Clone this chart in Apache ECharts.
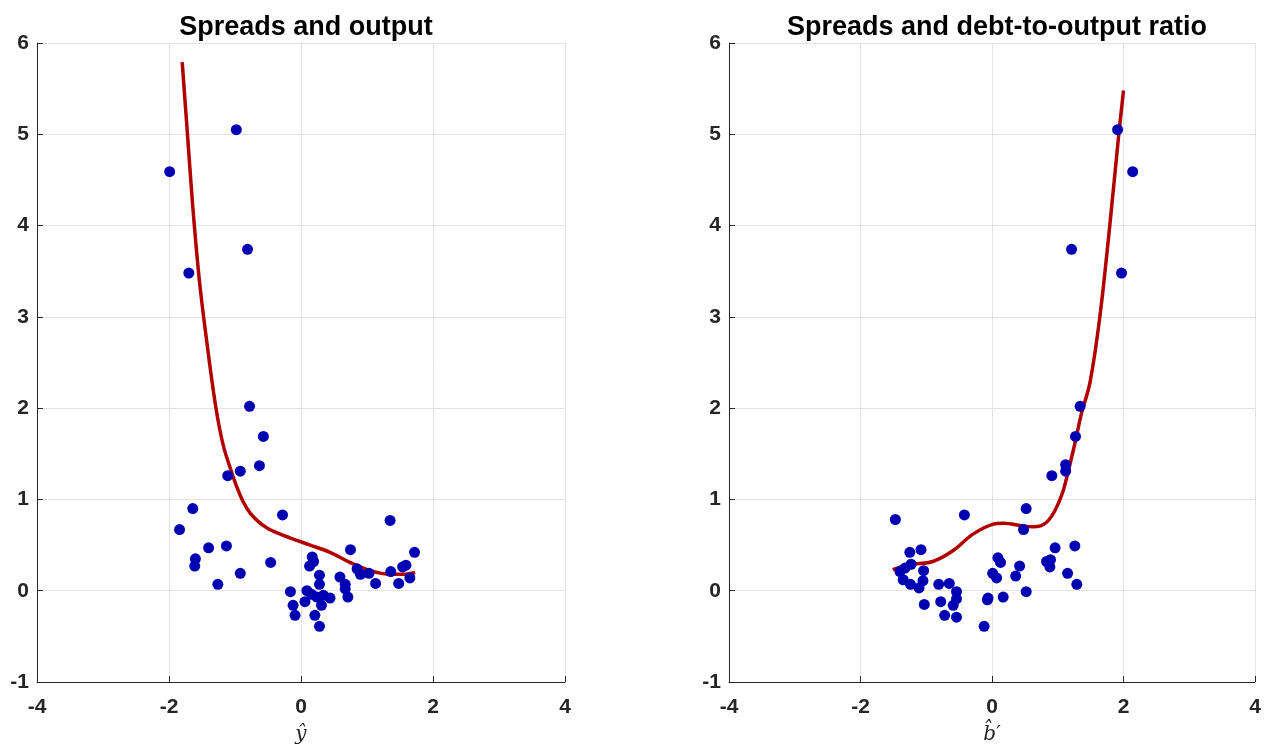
<!DOCTYPE html>
<html>
<head>
<meta charset="utf-8">
<script src="https://cdn.jsdelivr.net/npm/echarts@6/dist/echarts.min.js"></script>
<style>
html,body{margin:0;padding:0;background:#fff;}
#chart{width:1268px;height:745px;}
</style>
</head>
<body>
<div id="chart"></div>
<script>
// ---- Data ----
const titles = ['Spreads and output', 'Spreads and debt-to-output ratio'];
const xNames = ['\u0177', 'b\u0302\u2032'];
const xTicks = [-4, -2, 0, 2, 4];
const yTicks = [-1, 0, 1, 2, 3, 4, 5, 6];

// Left panel: output gap (x) vs spread (y)
const outputPoints = [
  [-1.99, 4.59], [-0.98, 5.05], [-0.81, 3.74], [-1.70, 3.48], [-0.78, 2.02],
  [-0.57, 1.69], [-0.63, 1.37], [-0.92, 1.31], [-1.11, 1.26], [-1.64, 0.90],
  [-0.28, 0.83], [1.35, 0.77], [-1.84, 0.67], [-1.40, 0.47], [-1.13, 0.49],
  [1.72, 0.42], [0.75, 0.45], [-1.60, 0.35], [-1.61, 0.27], [-0.46, 0.31],
  [-0.92, 0.19], [-1.26, 0.07], [0.17, 0.37], [0.19, 0.32], [0.13, 0.27],
  [0.28, 0.17], [0.28, 0.07], [0.59, 0.15], [0.67, 0.07], [0.67, 0.02],
  [0.71, -0.07], [0.85, 0.24], [0.90, 0.18], [1.03, 0.19], [1.13, 0.08],
  [1.36, 0.21], [1.48, 0.08], [1.54, 0.26], [1.59, 0.28], [1.65, 0.14],
  [-0.16, -0.01], [-0.12, -0.16], [-0.09, -0.27], [0.09, 0.00], [0.06, -0.12],
  [0.16, -0.04], [0.24, -0.07], [0.34, -0.05], [0.44, -0.08], [0.31, -0.16],
  [0.21, -0.27], [0.28, -0.39]
];
const outputCurve = [
  [-1.80, 5.79], [-1.72, 5.00], [-1.64, 4.21], [-1.54, 3.40], [-1.43, 2.74],
  [-1.33, 2.20], [-1.25, 1.84], [-1.17, 1.57], [-1.08, 1.36], [-0.98, 1.15],
  [-0.88, 0.98], [-0.77, 0.85], [-0.65, 0.76], [-0.52, 0.69], [-0.35, 0.63],
  [-0.17, 0.58], [0.14, 0.50], [0.44, 0.42], [0.74, 0.31], [1.05, 0.22],
  [1.35, 0.18], [1.55, 0.18], [1.73, 0.20]
];

// Right panel: debt-to-output (x) vs spread (y)
const debtPoints = [
  [1.91, 5.05], [2.14, 4.59], [1.21, 3.74], [1.97, 3.48], [1.34, 2.02],
  [1.27, 1.69], [1.12, 1.38], [1.12, 1.31], [0.91, 1.26], [0.52, 0.90],
  [-0.42, 0.83], [-1.47, 0.78], [0.48, 0.67], [0.96, 0.47], [1.26, 0.49],
  [-1.25, 0.42], [-1.08, 0.45], [0.09, 0.36], [0.13, 0.31], [0.42, 0.27],
  [0.36, 0.16], [0.83, 0.32], [0.89, 0.34], [0.88, 0.26], [0.01, 0.19],
  [0.07, 0.14], [1.15, 0.19], [1.29, 0.07], [-1.23, 0.29], [-1.40, 0.21],
  [-1.35, 0.12], [-1.24, 0.07], [-1.11, 0.03], [-1.05, 0.11], [-1.04, 0.22],
  [-1.03, -0.15], [-0.81, 0.07], [-0.65, 0.08], [-0.54, -0.01], [-0.54, -0.09],
  [-0.78, -0.12], [-0.59, -0.16], [-0.72, -0.27], [-0.54, -0.29], [-0.12, -0.39],
  [0.52, -0.01], [0.17, -0.07], [-0.06, -0.08], [-0.07, -0.10], [-1.32, 0.25]
];
const debtCurve = [
  [-1.51, 0.23], [-1.35, 0.27], [-1.20, 0.29], [-0.90, 0.32], [-0.59, 0.44],
  [-0.29, 0.62], [0.02, 0.73], [0.17, 0.74], [0.47, 0.71], [0.62, 0.70],
  [0.74, 0.71], [0.83, 0.75], [0.91, 0.82], [0.98, 0.91], [1.08, 1.09],
  [1.16, 1.31], [1.26, 1.61], [1.36, 1.94], [1.49, 2.28], [1.64, 3.00],
  [1.79, 3.99], [1.92, 4.94], [2.00, 5.48]
];

// ---- Styles ----
const axisColor = '#262626';
const gridColor = '#E3E3E3';
const dotColor = '#0000B3';
const lineColor = '#B00000';
const font = '"Liberation Sans", Arial, sans-serif';

const grids = [
  {left: 37, top: 43, width: 528, height: 639, outerBoundsMode: 'none', containLabel: false},
  {left: 729, top: 43, width: 526, height: 639, outerBoundsMode: 'none', containLabel: false}
];

function xAxis(i) {
  return {
    type: 'value', gridIndex: i, min: xTicks[0], max: xTicks[xTicks.length - 1], interval: 2,
    name: xNames[i], nameLocation: 'middle', nameGap: 43,
    nameTextStyle: {fontFamily: '"DejaVu Serif", "Liberation Serif", serif', fontStyle: 'italic', fontSize: 20, color: axisColor},
    axisLine: {show: true, onZero: false, lineStyle: {color: axisColor, width: 1}},
    axisTick: {show: true, inside: true, length: 6, lineStyle: {color: axisColor}},
    axisLabel: {fontFamily: font, fontWeight: 'bold', fontSize: 21, color: axisColor, margin: 15},
    splitLine: {show: true, lineStyle: {color: gridColor, width: 1}}
  };
}
function yAxis(i) {
  return {
    type: 'value', gridIndex: i, min: yTicks[0], max: yTicks[yTicks.length - 1], interval: 1,
    axisLine: {show: true, onZero: false, lineStyle: {color: axisColor, width: 1}},
    axisTick: {show: true, inside: true, length: 6, lineStyle: {color: axisColor}},
    axisLabel: {fontFamily: font, fontWeight: 'bold', fontSize: 21, color: axisColor, margin: 8,
                padding: [6, 0, 0, 0]},
    splitLine: {show: true, lineStyle: {color: gridColor, width: 1}}
  };
}

const chart = echarts.init(document.getElementById('chart'), null, {renderer: 'canvas'});
chart.setOption({
  animation: false,
  backgroundColor: '#ffffff',
  title: titles.map((t, i) => ({
    text: t,
    left: grids[i].left + grids[i].width / 2,
    textAlign: 'center',
    top: 9,
    textStyle: {fontFamily: font, fontWeight: 'bold', fontSize: 27, color: '#000'}
  })),
  grid: grids,
  xAxis: [xAxis(0), xAxis(1)],
  yAxis: [yAxis(0), yAxis(1)],
  series: [
    {type: 'line', xAxisIndex: 0, yAxisIndex: 0, data: outputCurve, smooth: 0.35,
     showSymbol: false, lineStyle: {color: lineColor, width: 3.5}, z: 2},
    {type: 'scatter', xAxisIndex: 0, yAxisIndex: 0, data: outputPoints, symbolSize: 11,
     itemStyle: {color: dotColor, opacity: 1}, z: 3},
    {type: 'line', xAxisIndex: 1, yAxisIndex: 1, data: debtCurve, smooth: 0.35,
     showSymbol: false, lineStyle: {color: lineColor, width: 3.5}, z: 2},
    {type: 'scatter', xAxisIndex: 1, yAxisIndex: 1, data: debtPoints, symbolSize: 11,
     itemStyle: {color: dotColor, opacity: 1}, z: 3}
  ]
});
</script>
</body>
</html>
